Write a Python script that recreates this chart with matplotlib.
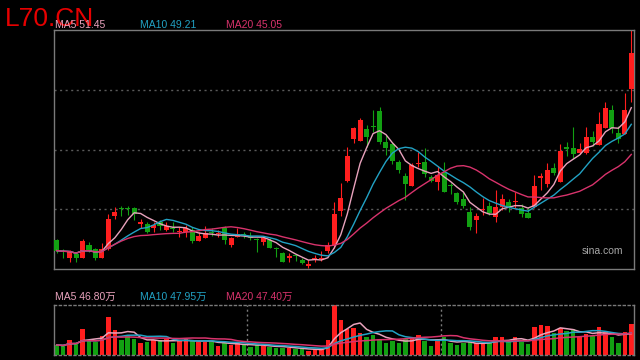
import numpy as np
import pandas as pd
import matplotlib
matplotlib.use('Agg')
import matplotlib.pyplot as plt

plt.rcParams['font.family'] = ['Liberation Sans', 'Noto Sans CJK SC']

#-- daily bars (price in yuan, volume in 万)
opens = [33.46, 31.96, 31.05, 31.60, 31.05, 32.78, 32.24, 31.05, 32.24, 36.76,
         37.74, 37.74, 37.77, 35.64, 35.60, 35.05, 35.95, 34.82, 35.09, 34.55,
         34.51, 34.82, 33.36, 33.77, 34.55, 34.30, 35.05, 32.78, 33.91, 34.18,
         34.00, 33.50, 33.23, 33.46, 32.28, 31.65, 30.97, 31.32, 30.74, 29.96,
         30.84, 30.92, 31.96, 32.78, 37.40, 41.48, 47.16, 46.96, 48.56, 48.92,
         51.00, 46.75, 46.48, 44.03, 42.16, 40.84, 43.84, 44.11, 42.07, 41.31,
         42.75, 40.84, 39.81, 39.04, 37.31, 36.18, 37.50, 38.08, 36.63, 37.99,
         38.59, 38.63, 37.77, 37.17, 37.91, 41.85, 41.08, 43.29, 41.39, 46.15,
         45.93, 45.25, 45.25, 47.51, 46.38, 48.65, 51.14, 47.97, 47.88, 53.96]
closes = [32.00, 31.83, 31.79, 30.97, 33.32, 31.96, 30.97, 32.24, 36.32, 37.23,
          37.61, 37.61, 36.96, 35.84, 34.59, 35.50, 35.40, 35.40, 34.98, 34.64,
          35.05, 33.32, 34.00, 34.37, 34.44, 34.41, 33.42, 33.73, 34.24, 34.10,
          33.69, 33.42, 33.69, 32.41, 32.20, 30.51, 31.32, 31.24, 30.29, 30.16,
          30.92, 31.01, 32.78, 36.96, 39.13, 44.88, 48.65, 49.78, 47.51, 48.79,
          46.83, 46.01, 44.20, 42.98, 41.04, 43.66, 43.93, 42.44, 41.48, 42.30,
          40.03, 40.76, 38.67, 38.12, 35.27, 36.76, 37.58, 37.09, 37.99, 39.04,
          37.77, 38.72, 37.00, 36.41, 40.80, 42.16, 42.98, 42.61, 45.60, 45.84,
          45.16, 45.88, 47.51, 46.83, 49.24, 51.37, 48.65, 47.16, 51.14, 58.93]
highs = [33.60, 32.24, 32.10, 31.83, 33.60, 33.23, 32.41, 33.05, 37.00, 37.91,
         38.12, 38.12, 37.95, 36.32, 35.95, 35.95, 36.18, 35.95, 35.87, 35.27,
         35.50, 35.27, 34.59, 35.36, 35.13, 34.82, 35.40, 33.91, 35.13, 34.51,
         34.51, 33.69, 34.00, 33.69, 32.55, 31.87, 31.65, 31.52, 30.97, 30.74,
         31.42, 31.96, 33.19, 38.59, 41.17, 46.07, 48.87, 50.01, 49.10, 51.14,
         51.51, 47.74, 46.83, 44.34, 42.53, 43.89, 45.47, 46.01, 42.30, 43.56,
         44.03, 41.17, 40.03, 40.03, 37.99, 37.09, 39.13, 38.67, 40.26, 39.72,
         39.04, 39.95, 38.32, 37.99, 42.30, 42.53, 43.89, 43.89, 46.48, 46.83,
         48.87, 46.61, 48.87, 48.32, 50.91, 52.27, 51.82, 48.96, 53.49, 62.02]
lows = [31.69, 31.01, 30.51, 30.47, 30.94, 31.79, 30.74, 31.01, 32.10, 36.32,
        36.76, 36.86, 36.18, 35.13, 34.41, 34.51, 34.82, 34.68, 34.59, 33.91,
        33.87, 33.09, 33.26, 33.69, 34.00, 33.91, 32.92, 32.55, 33.87, 33.69,
        33.46, 31.87, 32.78, 32.33, 31.19, 30.43, 30.43, 30.60, 30.16, 29.69,
        30.43, 30.60, 31.69, 32.37, 36.76, 41.31, 46.69, 46.92, 46.15, 48.19,
        46.48, 45.02, 43.76, 42.53, 38.90, 40.80, 43.43, 42.07, 41.31, 40.26,
        39.95, 39.72, 38.32, 37.77, 34.82, 34.37, 36.86, 36.86, 35.95, 37.54,
        37.31, 37.77, 36.63, 36.38, 37.77, 40.26, 40.71, 42.30, 41.35, 44.88,
        44.57, 45.20, 45.16, 46.24, 46.31, 48.62, 47.97, 46.61, 47.81, 52.27]
volumes = [21.9, 19.7, 32.8, 25.6, 56.9, 31.3, 29.1, 41.6, 83.8, 54.7,
           32.8, 43.7, 34.3, 25.6, 29.1, 32.8, 32.8, 34.3, 26.9, 30.6,
           34.3, 31.3, 29.1, 29.1, 29.1, 19.7, 26.9, 21.2, 25.6, 21.9,
           18.2, 21.9, 20.3, 18.2, 16.0, 16.0, 16.0, 12.5, 12.5, 9.4,
           12.5, 12.5, 32.8, 109.4, 76.5, 55.8, 59.7, 48.8, 40.0, 43.7,
           34.3, 26.9, 31.3, 25.6, 34.3, 36.5, 43.7, 31.3, 20.3, 34.3,
           40.0, 25.6, 21.9, 25.6, 29.1, 25.6, 25.6, 25.6, 40.0, 40.0,
           29.1, 40.0, 29.1, 24.1, 61.9, 65.6, 63.4, 47.5, 58.4, 52.5,
           56.2, 40.0, 45.9, 41.6, 60.6, 51.0, 38.7, 26.9, 49.6, 67.8]

title = 'L70.CN'
price_ma_text = ['MA5 51.45', 'MA10 49.21', 'MA20 45.05']
vol_ma_text = ['MA5 46.80万', 'MA10 47.95万', 'MA20 47.40万']
ma_windows = [5, 10, 20]
month_breaks = [29.5, 59.5]

UP = '#ff1e1e'
DOWN = '#12a012'
MA_COLORS = ['#e8a2bc', '#22a2c4', '#d8336c']
FRAME = '#7a7a7a'
GRID = '#5a5a5a'

o = np.array(opens)
c = np.array(closes)
h = np.array(highs)
l = np.array(lows)
v = np.array(volumes)
x = np.arange(len(c))
up = c >= o
cols = np.where(up, UP, DOWN)

fig = plt.figure(figsize=(6.4, 3.6), dpi=100, facecolor='black')
ax = fig.add_axes([54/640, 1-269/360, 580/640, 239/360], facecolor='black')
axv = fig.add_axes([54/640, 1-355/360, 580/640, 50/360], facecolor='black')

#-- price panel
lo, hi = l.min(), h.max()
pad = (hi - lo) * 0.006
ax.set_ylim(lo - pad, hi)
ax.set_xlim(-0.42, len(c) - 0.58)
span = hi - lo + pad
for q in (0.25, 0.5, 0.75):
    ax.axhline(lo - pad + q * span, color=GRID, lw=1.0, ls=(0, (1.5, 2.5)), zorder=0)

ax.vlines(x, l, h, colors=cols, lw=0.8, zorder=2)
body = np.maximum(np.abs(c - o), span / 239 * 1.0)
ax.bar(x, body, bottom=np.minimum(o, c), width=0.78, color=cols, lw=0, zorder=3)

for w, col in zip(ma_windows, MA_COLORS):
    ma = pd.Series(c).rolling(w, min_periods=1).mean()
    ax.plot(x, ma, color=col, lw=1.0, zorder=4)

#-- volume panel
axv.set_xlim(ax.get_xlim())
axv.set_ylim(0, v.max())
axv.bar(x, v, width=0.7, color=cols, lw=0, zorder=2)
for w, col in zip(ma_windows, MA_COLORS):
    ma = pd.Series(v).rolling(w, min_periods=1).mean()
    axv.plot(x, ma, color=col, lw=1.1, zorder=3)
for b in month_breaks:
    axv.axvline(b, color=FRAME, lw=1.0, ls=(0, (1.5, 2.0)), zorder=1)

for a in (ax, axv):
    a.set_xticks([])
    a.set_yticks([])
    for s in a.spines.values():
        s.set_color(FRAME)
        s.set_linewidth(1.0)
for s in ('top', 'bottom'):
    axv.spines[s].set_linestyle((0, (1.5, 2.0)))

#-- texts
fig.text(5/640, 1-26/360, title, color='#e60000', fontsize=19, va='baseline', ha='left')
for xp, txt, col in zip([55, 140.5, 225.5], price_ma_text, MA_COLORS):
    fig.text(xp/640, 1-27.5/360, txt, color=col, fontsize=7.5, va='baseline', ha='left')
for xp, txt, col in zip([55, 140.5, 225.5], vol_ma_text, MA_COLORS):
    fig.text(xp/640, 1-299.5/360, txt, color=col, fontsize=7.5, va='baseline', ha='left')
fig.text(582/640, 1-253.5/360, 'sina.com', color='#a8a8a8', fontsize=7.5,
         va='baseline', ha='left')

fig.savefig('out.png', dpi=100, facecolor='black')
